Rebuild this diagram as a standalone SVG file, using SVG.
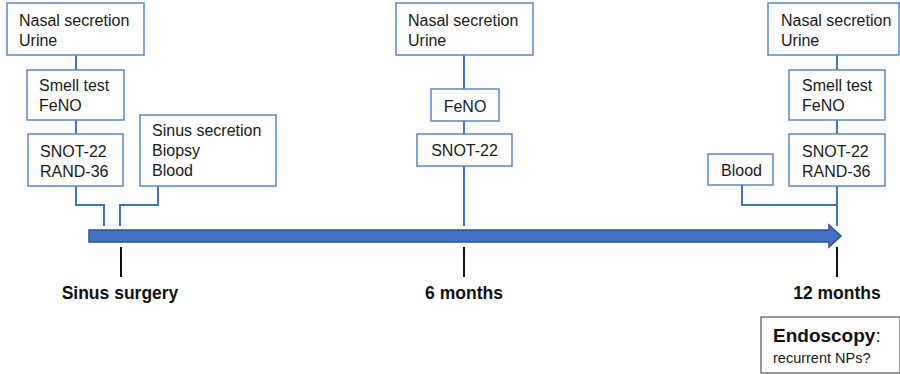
<svg xmlns="http://www.w3.org/2000/svg" width="900" height="374" viewBox="0 0 900 374">
<style>
.box{fill:#fff;stroke:#5B85CF;stroke-width:1.5}
.t{font-family:"Liberation Sans",Arial,sans-serif;font-size:16px;fill:#1a1a1a}
.lbl{font-family:"Liberation Sans",Arial,sans-serif;font-size:17.5px;font-weight:bold;fill:#111;text-anchor:middle}
.con{fill:none;stroke:#4472C4;stroke-width:2}
.tick{stroke:#111;stroke-width:2}
</style>
<rect width="900" height="374" fill="#fff"/>
<g id="connectors">
<path class="con" d="M76 55V70M76 120V134M76 186V205H104V226M158 186V205H120V226"/>
<path class="con" d="M464 55V89M464 121V134M464 166V226"/>
<path class="con" d="M837 55V70M837 120V134M837 186V226M742 185V205H837"/>
</g>
<g id="timeline">
<path d="M89 230H829V225L841 236L829 247V242H89Z" fill="#4472C4" stroke="#2F528F" stroke-width="1.5"/>
<line class="tick" x1="121" y1="247" x2="121" y2="277"/>
<line class="tick" x1="464" y1="247" x2="464" y2="277"/>
<line class="tick" x1="837" y1="247" x2="837" y2="277"/>
<text class="lbl" x="120" y="299">Sinus surgery</text>
<text class="lbl" x="464" y="299">6 months</text>
<text class="lbl" x="837" y="299">12 months</text>
</g>
<g id="s-nasal"><rect class="box" x="7" y="3" width="137" height="52"/><text class="t" x="19" y="26">Nasal secretion</text><text class="t" x="19" y="46">Urine</text></g>
<g id="s-smell"><rect class="box" x="27" y="70" width="97" height="50"/><text class="t" x="39" y="91">Smell test</text><text class="t" x="39" y="111">FeNO</text></g>
<g id="s-snot"><rect class="box" x="28" y="134" width="95" height="52"/><text class="t" x="40" y="157">SNOT-22</text><text class="t" x="40" y="177">RAND-36</text></g>
<g id="s-sinus"><rect class="box" x="140" y="115" width="136" height="71"/><text class="t" x="152" y="136">Sinus secretion</text><text class="t" x="152" y="156">Biopsy</text><text class="t" x="152" y="176">Blood</text></g>
<g id="m-nasal"><rect class="box" x="396" y="3" width="137" height="52"/><text class="t" x="408" y="26">Nasal secretion</text><text class="t" x="408" y="46">Urine</text></g>
<g id="m-feno"><rect class="box" x="431" y="89" width="68" height="32"/><text class="t" x="465" y="112" text-anchor="middle">FeNO</text></g>
<g id="m-snot"><rect class="box" x="417" y="134" width="95" height="32"/><text class="t" x="464.5" y="156" text-anchor="middle">SNOT-22</text></g>
<g id="e-nasal"><rect class="box" x="768" y="3" width="131" height="52"/><text class="t" x="781" y="26">Nasal secretion</text><text class="t" x="781" y="46">Urine</text></g>
<g id="e-smell"><rect class="box" x="789" y="70" width="96" height="50"/><text class="t" x="802" y="91">Smell test</text><text class="t" x="802" y="111">FeNO</text></g>
<g id="e-snot"><rect class="box" x="789" y="134" width="96" height="52"/><text class="t" x="802" y="157">SNOT-22</text><text class="t" x="802" y="177">RAND-36</text></g>
<g id="e-blood"><rect class="box" x="708" y="154" width="65" height="31"/><text class="t" x="721" y="176">Blood</text></g>
<g id="endoscopy"><rect x="761" y="317" width="139" height="56" fill="#fff" stroke="#555" stroke-width="1.2"/><text x="773" y="342" font-family="'Liberation Sans',Arial,sans-serif" font-size="19" fill="#111"><tspan font-weight="bold">Endoscopy</tspan>:</text><text x="773" y="363" font-family="'Liberation Sans',Arial,sans-serif" font-size="14.5" fill="#1a1a1a">recurrent NPs?</text></g>
</svg>
